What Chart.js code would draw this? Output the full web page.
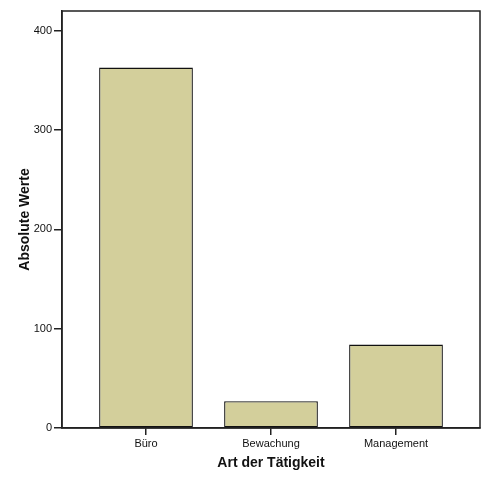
<!DOCTYPE html>
<html>
<head>
<meta charset="utf-8">
<script src="https://cdn.jsdelivr.net/npm/chart.js@4.4.1/dist/chart.umd.min.js"></script>
<style>
  html, body { margin: 0; padding: 0; background: #fff; }
  #box { width: 491px; height: 479px; }
</style>
</head>
<body>
<div id="box"><canvas id="grafico"></canvas></div>
<script>
const kategorien = ["Büro", "Bewachung", "Management"];
const werte = [363, 27, 84];
const yTicks = [0, 100, 200, 300, 400];

const schrift = "'Liberation Sans', Arial, sans-serif";

// Rahmen um die Plotfläche
const rahmen = {
  id: "rahmen",
  afterDatasetsDraw(chart) {
    const a = chart.chartArea;
    const ctx = chart.ctx;
    ctx.save();
    ctx.strokeStyle = "#222";
    ctx.lineWidth = 1.5;
    ctx.strokeRect(a.left, a.top, a.right - a.left, a.bottom - a.top);
    ctx.restore();
  }
};

const ctx = document.getElementById("grafico").getContext("2d");
new Chart(ctx, {
  type: "bar",
  data: {
    datasets: [{
      data: werte.map((v, i) => ({ x: i, y: v })),
      backgroundColor: "#d3cf9b",
      borderColor: "#111",
      borderWidth: 1.3,
      borderSkipped: false,
      barPercentage: 0.75,
      categoryPercentage: 1
    }]
  },
  options: {
    responsive: true,
    maintainAspectRatio: false,
    animation: false,
    layout: { padding: { top: 11, right: 11, left: 0, bottom: 0 } },
    plugins: { legend: { display: false }, tooltip: { enabled: false } },
    scales: {
      x: {
        type: "linear",
        offset: false,
        min: -0.672,
        max: 2.672,
        afterBuildTicks: (s) => { s.ticks = kategorien.map((_, i) => ({ value: i })); },
        afterFit: (s) => { s.height = 51; },
        ticks: {
          callback: (v) => kategorien[v],
          color: "#111",
          font: { family: schrift, size: 11 },
          padding: 2,
          maxRotation: 0
        },
        grid: { offset: false, drawOnChartArea: false, drawTicks: true, tickLength: 7, color: "#222", lineWidth: 1.5 },
        border: { display: true, color: "#222", width: 1.5 },
        title: {
          display: true,
          text: "Art der Tätigkeit",
          color: "#111",
          font: { family: schrift, size: 14, weight: "bold" },
          padding: { top: 2, bottom: 7 }
        }
      },
      y: {
        min: 0,
        max: 420,
        afterBuildTicks: (s) => { s.ticks = yTicks.map(v => ({ value: v })); },
        afterFit: (s) => { s.width = 62; },
        ticks: {
          color: "#111",
          font: { family: schrift, size: 11 },
          padding: 2
        },
        grid: { drawOnChartArea: false, drawTicks: true, tickLength: 8, color: "#222", lineWidth: 1.5 },
        border: { display: true, color: "#222", width: 1.5 },
        title: {
          display: true,
          text: "Absolute Werte",
          color: "#111",
          font: { family: schrift, size: 14, weight: "bold" },
          padding: { top: 17, bottom: 0 }
        }
      }
    }
  },
  plugins: [rahmen]
});
</script>
</body>
</html>
